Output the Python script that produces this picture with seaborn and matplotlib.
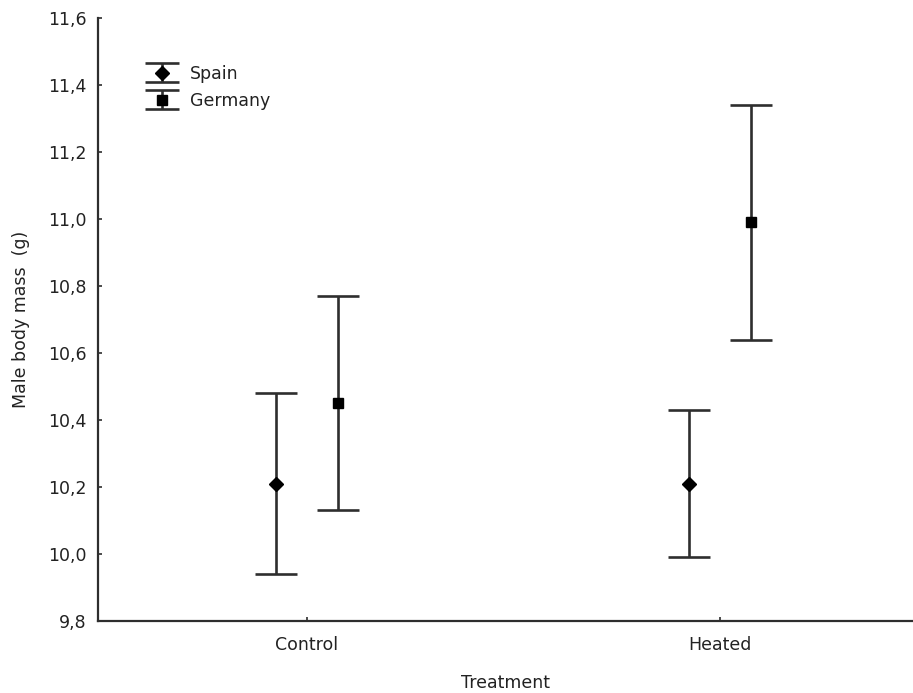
import matplotlib
matplotlib.use("Agg")
import matplotlib.pyplot as plt
from matplotlib.legend_handler import HandlerErrorbar
from matplotlib.container import ErrorbarContainer
import seaborn as sns
import pandas as pd
import numpy as np

# Group means and interval limits of male body mass (g)
treatments = ["Control", "Heated"]
countries = ["Spain", "Germany"]
spain_mean = [10.21, 10.21]
spain_low = [9.94, 9.99]
spain_high = [10.48, 10.43]
germany_mean = [10.45, 10.99]
germany_low = [10.13, 10.64]
germany_high = [10.77, 11.34]
y_ticks = [9.8, 10.0, 10.2, 10.4, 10.6, 10.8, 11.0, 11.2, 11.4, 11.6]
y_tick_labels = ["9,8", "10,0", "10,2", "10,4", "10,6", "10,8", "11,0", "11,2", "11,4", "11,6"]

df = pd.DataFrame({
    "Treatment": treatments * 2,
    "Country": [countries[0]] * 2 + [countries[1]] * 2,
    "mass": spain_mean + germany_mean,
    "low": spain_low + germany_low,
    "high": spain_high + germany_high,
})

# side-by-side placement of the two countries within each treatment
dodge = 0.15
df["pos"] = (df["Treatment"].map({t: i for i, t in enumerate(treatments)})
             + df["Country"].map({c: (i - 0.5) * dodge for i, c in enumerate(countries)}))

sns.set_style("ticks")
plt.rcParams["font.family"] = ["DejaVu Sans"]
plt.rcParams["lines.markeredgewidth"] = 1.0
FS = 12.5
INK = "#222222"
LINE = "#2e2e2e"
LW = 1.9

fig = plt.figure(figsize=(9.13, 6.93), dpi=100)
ax = fig.add_axes([98 / 913, 72 / 693, 1 - 98 / 913, (621 - 18) / 693])

markers = {"Spain": "D", "Germany": "s"}
msizes = {"Spain": 7.0, "Germany": 7.8}

# means with capped whiskers, one series per country
handles = []
for c in countries:
    sub = df[df["Country"] == c]
    m = sub["mass"].to_numpy()
    yerr = np.vstack([m - sub["low"].to_numpy(), sub["high"].to_numpy() - m])
    h = ax.errorbar(sub["pos"], m, yerr=yerr, fmt=markers[c], color="black",
                    markersize=msizes[c], ecolor=LINE,
                    elinewidth=LW, capsize=15, capthick=LW, linestyle="none",
                    zorder=3, label=c)
    handles.append(h)


def legend_props(legend_handle, orig_handle):
    legend_handle.update_from(orig_handle)
    if hasattr(legend_handle, "get_marker") and legend_handle.get_marker() == "_":
        legend_handle.set_markersize(25)


ax.set_xlim(-0.506, 1.467)
ax.set_ylim(9.8, 11.6)
ax.set_xticks(range(len(treatments)))
ax.set_xticklabels(treatments)
ax.set_yticks(y_ticks)
ax.set_yticklabels(y_tick_labels)
ax.tick_params(axis="both", direction="in", length=3, width=1.2, color=LINE,
               labelsize=FS, labelcolor=INK)
ax.tick_params(axis="y", pad=8)
ax.tick_params(axis="x", pad=11)

ax.set_xlabel("Treatment", fontsize=FS, color=INK, labelpad=14)
ax.set_ylabel("Male body mass  (g)", fontsize=FS, color=INK, labelpad=13)

sns.despine(ax=ax, top=True, right=True)
for s in ("left", "bottom"):
    ax.spines[s].set_linewidth(1.6)
    ax.spines[s].set_color(LINE)

leg = ax.legend(handles=handles, labels=countries, loc="upper left",
                bbox_to_anchor=(144.6 / 913, (693 - 65) / 693), bbox_transform=fig.transFigure,
                frameon=False, fontsize=FS, numpoints=1, handlelength=2.0,
                handletextpad=0.62, labelspacing=0.5, borderpad=0, borderaxespad=0,
                handler_map={ErrorbarContainer: HandlerErrorbar(yerr_size=0.55,
                                                                update_func=legend_props)})
for t in leg.get_texts():
    t.set_color(INK)

fig.savefig("out.png", dpi=100)
